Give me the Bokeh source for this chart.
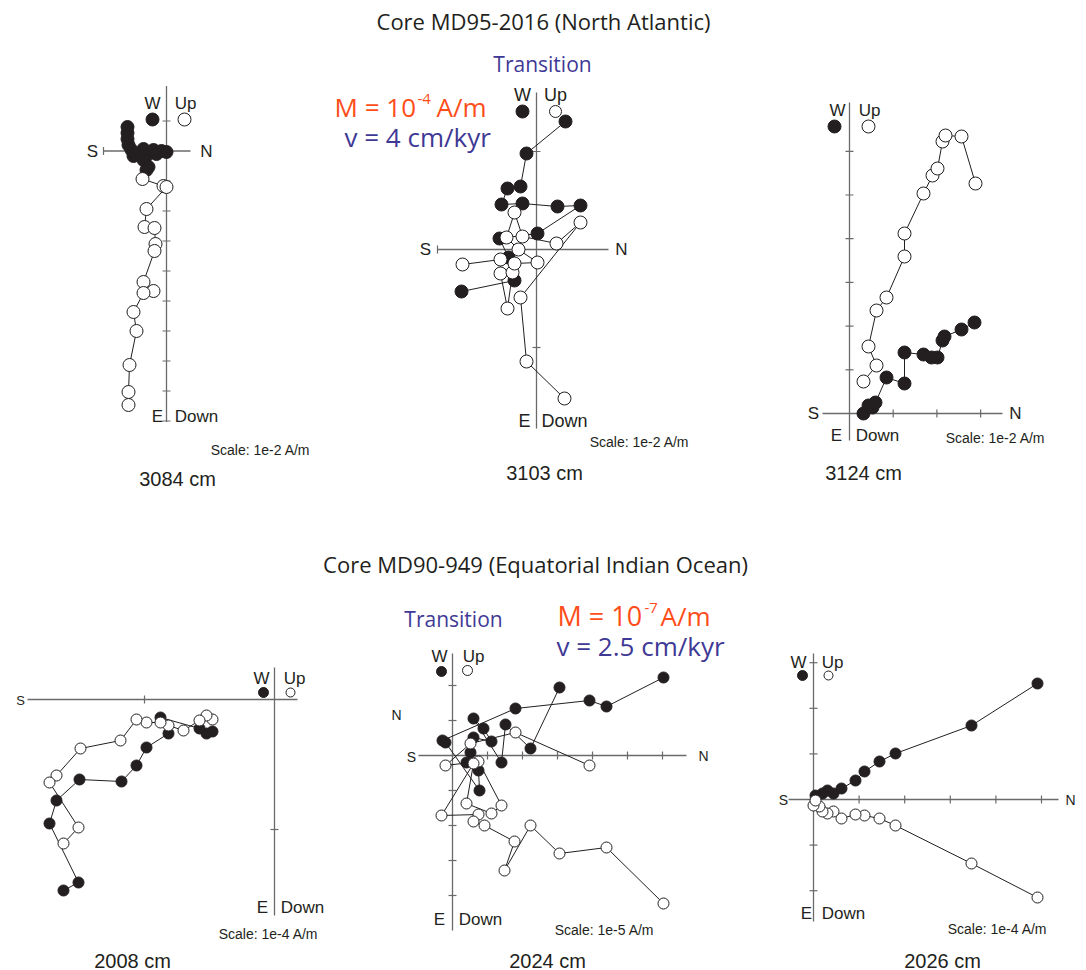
from bokeh.plotting import figure
from bokeh.models import Range1d
from bokeh.embed import file_html
from bokeh.resources import INLINE
from bokeh.core.properties import value

# ---------------- data: Zijderveld components ----------------
# x: N(+)/S(-) component, y: W/Up(+) component, in reference-pixel units from the diagram origin
# filled = horizontal projection, open = vertical projection

# 3084 cm
p1_fill_x = [-39, -39, -39, -38, -35, -23, -13, -5, 0, -10, -20, -33, -23, -18, -20]
p1_fill_y = [24, 18, 12, 6, 1, 2, 1, 0, -1, -3, -5, -5, -9, -16, -19]
p1_open_x = [-24, -3, 0, -20, -22, -12, -11, -12, -23, -13, -23, -33, -30, -37, -38, -38]
p1_open_y = [-28, -35, -36, -58, -76, -77, -93, -100, -131, -140, -142, -161, -180, -214, -241, -254]

# 3103 cm
p2_fill_x = [29, -10, -16, -29, -35, -14, 21, 44, 1, -37, -28, -22, -75]
p2_fill_y = [128, 96, 63, 61, 45, 46, 43, 44, 16, 11, -8, -31, -42]
p2_open_x = [-74, -36, -36, -29, -24, -22, 1, -18, -30, -22, -14, 20, 44, -16, -10, 28]
p2_open_y = [-15, -10, -24, -59, -23, -14, -13, 0, 12, 37, 13, 6, 27, -48, -112, -149]

# 3124 cm
p3_fill_x = [14, 19, 23, 26, 37, 55, 55, 74, 82, 88, 93, 95, 112, 125]
p3_fill_y = [0, 8, 6, 11, 36, 30, 61, 59, 56, 56, 73, 77, 84, 91]
p3_open_x = [14, 27, 19, 27, 37, 55, 55, 74, 83, 88, 93, 96, 112, 126]
p3_open_y = [32, 48, 67, 103, 116, 157, 180, 220, 238, 245, 272, 278, 277, 230]

# 2008 cm
p4_fill_x = [-62, -68, -75, -114, -106, -128, -138, -153, -195, -218, -225, -196, -211]
p4_fill_y = [-32, -34, -29, -18, -34, -48, -66, -82, -80, -101, -124, -183, -191]
p4_open_x = [-62, -68, -75, -91, -106, -114, -128, -138, -154, -194, -218, -225, -196, -211]
p4_open_y = [-20, -16, -21, -31, -26, -23, -23, -20, -41, -49, -76, -83, -128, -144]

# 2024 cm
p5_fill_x = [211, 154, 137, 63, -10, -7, 27, 26, 14, 18, 21, 39, 31, 21, 49, 53, 78, 107]
p5_fill_y = [78, 49, 55, 47, 15, 13, -35, -15, -7, 3, 18, 14, 27, 37, -7, 31, 7, 68]
p5_open_x = [137, 63, 18, -7, 26, 49, 39, 14, 21, -11, 26, 21, 32, 62, 52, 78, 107, 154, 211]
p5_open_y = [-10, 23, 12, -10, -6, -50, -58, -48, -8, -60, -59, -66, -70, -86, -115, -70, -98, -92, -148]

# 2026 cm
p6_fill_x = [224, 158, 82, 66, 51, 42, 28, 20, 14, 9, 2]
p6_fill_y = [116, 74, 46, 38, 28, 19, 11, 6, 9, 6, 4]
p6_open_x = [224, 158, 82, 66, 51, 42, 28, 20, 14, 9, 6, 0, 2]
p6_open_y = [-98, -64, -26, -19, -16, -15, -19, -12, -14, -12, -7, -6, -1]

depths = ["3084 cm", "3103 cm", "3124 cm", "2008 cm", "2024 cm", "2026 cm"]
scales = ["Scale: 1e-2 A/m", "Scale: 1e-2 A/m", "Scale: 1e-2 A/m",
          "Scale: 1e-4 A/m", "Scale: 1e-5 A/m", "Scale: 1e-4 A/m"]
titles = ["Core MD95-2016 (North Atlantic)", "Core MD90-949 (Equatorial Indian Ocean)"]

DARK = "#231f20"
AXC = "#6a6a6a"
ORANGE = "#ff4d1a"
PURPLE = "#3f3996"

p = figure(width=1086, height=970, x_range=Range1d(0, 1086), y_range=Range1d(970, 0),
           output_backend="svg", toolbar_location=None,
           x_axis_location=None, y_axis_location=None, min_border=0,
           outline_line_color=None, background_fill_color="white")
p.grid.grid_line_color = None
p.xgrid.visible = False
p.ygrid.visible = False


def txt(x, y, s, size, font="Liberation Sans", color=DARK, align="center"):
    p.text(x=[x], y=[y], text=[s], text_font=value(font), text_font_size=value(f"{size}px"),
           text_color=color, text_align=align, text_baseline="middle")


panels = [
    dict(o=(166, 150.5), hx=(-63, 24), vy=(-271, 65), xt=[-63], yt=[30] + [-30 * k for k in range(1, 10)],
         fx=p1_fill_x, fy=p1_fill_y, ox_=p1_open_x, oy_=p1_open_y, ms=13,
         leg=((152, 119), (184, 119), 13, 13), W=(152, 103), Up=(185, 103), S=(92, 151), N=(206, 151),
         E=(157, 416), Down=(196, 416), lsz=17, ssz=17, scale=(260, 449), depth=(177, 478)),
    dict(o=(536, 249), hx=(-99, 72), vy=(-179, 157), xt=[-99], yt=[98, -98],
         fx=p2_fill_x, fy=p2_fill_y, ox_=p2_open_x, oy_=p2_open_y, ms=13,
         leg=((522, 111), (555, 111), 13, 12), W=(522, 94), Up=(555, 94), S=(425, 249), N=(621, 249),
         E=(524, 420), Down=(564, 420), lsz=18, ssz=17, scale=(639, 441), depth=(544, 472)),
    dict(o=(849, 413), hx=(-27, 153), vy=(-27, 311), xt=[43.7, 87.4, 131.1],
         yt=[43.7 * k for k in range(1, 7)],
         fx=p3_fill_x, fy=p3_fill_y, ox_=p3_open_x, oy_=p3_open_y, ms=13,
         leg=((834, 126), (868, 126), 13, 13), W=(837, 110), Up=(869, 110), S=(813, 413), N=(1015, 413),
         E=(836, 435), Down=(877, 435), lsz=17, ssz=17, scale=(995, 437), depth=(863, 472)),
    dict(o=(274, 699), hx=(-247, 23), vy=(-216, 32), xt=[-130], yt=[-130],
         fx=p4_fill_x, fy=p4_fill_y, ox_=p4_open_x, oy_=p4_open_y, ms=11,
         leg=((263, 692), (290, 692), 10, 9), W=(261, 678), Up=(294, 678), S=(20, 700), N=None,
         E=(262, 907), Down=(302, 907), lsz=17, ssz=13, scale=(268, 933), depth=(132, 960)),
    dict(o=(452, 755), hx=(-34, 234), vy=(-175, 102), xt=[35 * k for k in range(1, 7)],
         yt=[70, 35, -35, -70, -105, -140],
         fx=p5_fill_x, fy=p5_fill_y, ox_=p5_open_x, oy_=p5_open_y, ms=11,
         leg=((441, 671), (467, 670), 10, 10), W=(439, 656), Up=(473, 656), S=(411, 756), N=(703, 755),
         E=(439, 919), Down=(480, 919), lsz=17, ssz=14, scale=(604, 929), depth=(547, 960)),
    dict(o=(813, 799), hx=(-25, 245), vy=(-122, 146), xt=[45.6 * k for k in range(1, 6)],
         yt=[136.8, 91.2, 45.6, -45.6, -91.2],
         fx=p6_fill_x, fy=p6_fill_y, ox_=p6_open_x, oy_=p6_open_y, ms=11,
         leg=((802, 675), (828, 675), 10, 9), W=(798, 662), Up=(832, 662), S=(783, 799), N=(1070, 799),
         E=(806, 913), Down=(843, 913), lsz=17, ssz=14, scale=(997, 928), depth=(942, 960)),
]

for i, P in enumerate(panels):
    ox, oy = P["o"]
    h0, h1 = P["hx"]
    v0, v1 = P["vy"]
    # axes
    p.segment(x0=[ox + h0, ox], y0=[oy, oy - v0], x1=[ox + h1, ox], y1=[oy, oy - v1],
              line_color=AXC, line_width=1.3)
    tl = 4
    xt, yt = P["xt"], P["yt"]
    p.segment(x0=[ox + t for t in xt], y0=[oy - tl] * len(xt), x1=[ox + t for t in xt], y1=[oy + tl] * len(xt),
              line_color=AXC, line_width=1.2)
    p.segment(x0=[ox - tl] * len(yt), y0=[oy - t for t in yt], x1=[ox + tl] * len(yt), y1=[oy - t for t in yt],
              line_color=AXC, line_width=1.2)
    # horizontal projection (filled)
    fx = [ox + v for v in P["fx"]]
    fy = [oy - v for v in P["fy"]]
    p.line(fx, fy, line_color=DARK, line_width=1)
    p.scatter(fx, fy, size=P["ms"], fill_color=DARK, line_color=DARK, line_width=1)
    # vertical projection (open)
    vx = [ox + v for v in P["ox_"]]
    vy = [oy - v for v in P["oy_"]]
    p.line(vx, vy, line_color=DARK, line_width=1)
    p.scatter(vx, vy, size=P["ms"], fill_color="white", line_color=DARK, line_width=1)
    # key markers
    (lfx, lfy), (lox, loy), lfs, los = P["leg"]
    p.scatter([lfx], [lfy], size=lfs, fill_color=DARK, line_color=DARK)
    p.scatter([lox], [loy], size=los, fill_color="white", line_color=DARK, line_width=1)
    # axis labels
    txt(*P["W"], "W", P["lsz"])
    txt(*P["Up"], "Up", P["lsz"])
    txt(*P["S"], "S", P["ssz"])
    if P["N"]:
        txt(*P["N"], "N", P["ssz"])
    txt(*P["E"], "E", P["lsz"])
    txt(*P["Down"], "Down", P["lsz"])
    txt(*P["scale"], scales[i], 14)
    txt(*P["depth"], depths[i], 20)

# stray N label on the 2024 cm diagram
txt(396, 714, "N", 14)

# titles and annotations
txt(543, 20, titles[0], 22, font="Open Sans")
txt(535, 563, titles[1], 22, font="Open Sans")
txt(542, 63, "Transition", 21, font="Open Sans", color=PURPLE)
txt(453, 618, "Transition", 21, font="Open Sans", color=PURPLE)

txt(334, 106, "M = 10", 26, font="Open Sans", color=ORANGE, align="left")
txt(417, 98, "-4", 15, font="Open Sans", color=ORANGE, align="left")
txt(436, 106, "A/m", 26, font="Open Sans", color=ORANGE, align="left")
txt(344, 136, "v = 4 cm/kyr", 26, font="Open Sans", color=PURPLE, align="left")

txt(557, 615, "M = 10", 27, font="Open Sans", color=ORANGE, align="left")
txt(644, 607, "-7", 15, font="Open Sans", color=ORANGE, align="left")
txt(660, 615, "A/m", 26, font="Open Sans", color=ORANGE, align="left")
txt(556, 645, "v = 2.5 cm/kyr", 26, font="Open Sans", color=PURPLE, align="left")

open("out.html", "w").write(file_html(p, INLINE))
